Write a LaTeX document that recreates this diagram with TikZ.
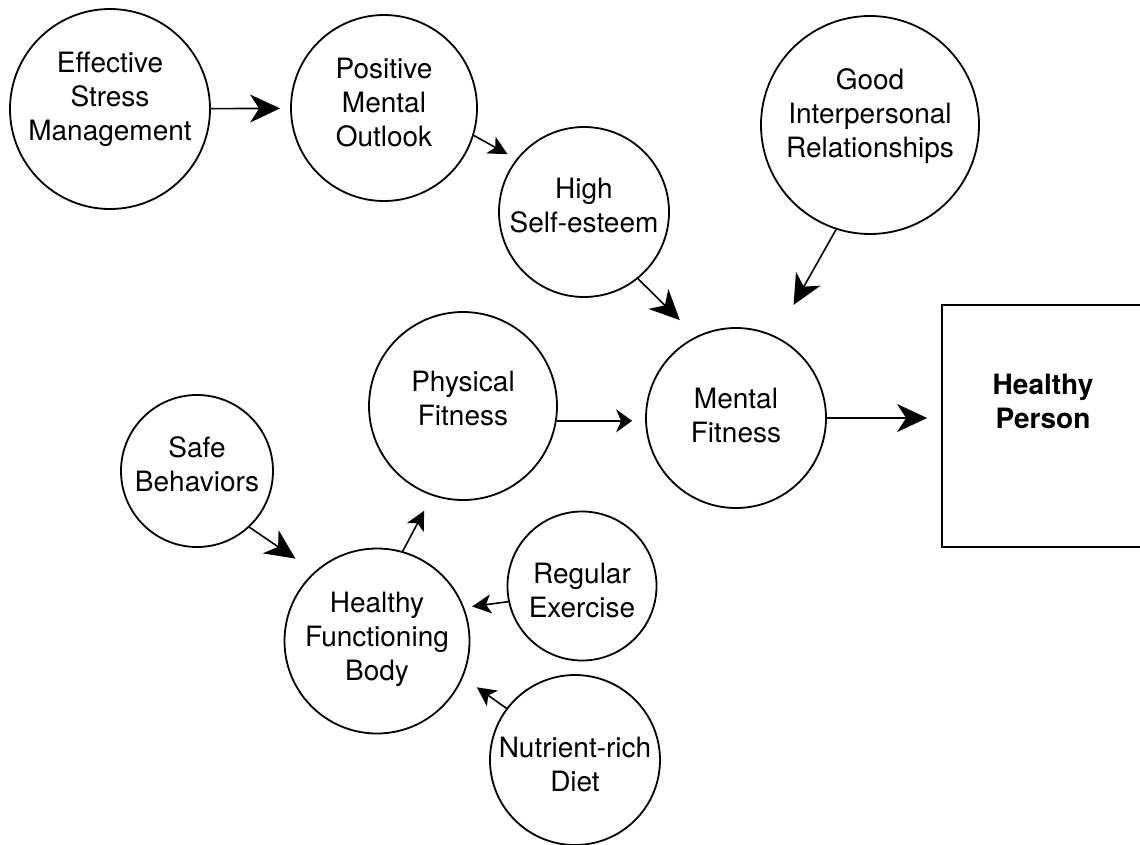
\documentclass[tikz,border=0pt]{standalone}
\usepackage{fontspec}
\setmainfont{TeX Gyre Heros}
\usetikzlibrary{arrows.meta}

\tikzset{
	bubble/.style={draw,circle,line width=1.8pt,inner sep=0pt},
	every label/.style={align=center},
	big/.style={line width=1.6pt,-{Stealth[length=30pt,width=28pt,inset=9pt]}},
	mid/.style={line width=1.6pt,-{Stealth[length=16pt,width=23pt,inset=5pt]}},
	small/.style={line width=1.6pt,-{Stealth[length=19pt,width=19pt,inset=5pt]}},
}

\begin{document}
\begin{tikzpicture}[x=1pt,y=-1pt,font=\fontsize{28}{34}\selectfont]
	\useasboundingbox (0,0) rectangle (1140,844);
	% mental side
	\node[bubble,minimum size=200pt,label={[yshift=10pt]center:Effective\\Stress\\Management}] (esm) at (110,109) {};
	\node[bubble,minimum size=186pt,label={[yshift=5pt]center:Positive\\Mental\\Outlook}] (pmo) at (384,108) {};
	\node[bubble,minimum size=170pt,label={[yshift=6pt]center:High\\Self-esteem}] (hse) at (584,212) {};
	\node[bubble,minimum size=218pt,label={[yshift=9pt]center:Good\\Interpersonal\\Relationships}] (gir) at (870,125) {};
	\node[bubble,minimum size=180pt,label={[yshift=3pt]center:Mental\\Fitness}] (mf) at (736,418) {};
	% physical side
	\node[bubble,minimum size=188pt,label={[yshift=8pt]center:Physical\\Fitness}] (pf) at (463,406) {};
	\node[bubble,minimum size=152pt,label={[yshift=7pt]center:Safe\\Behaviors}] (sb) at (197,471) {};
	\node[bubble,minimum size=185pt,label={[yshift=2pt]center:Healthy\\Functioning\\Body}] (hfb) at (377,641) {};
	\node[bubble,minimum size=149pt,label={[yshift=-4pt]center:Regular\\Exercise}] (re) at (582,586) {};
	\node[bubble,minimum size=170pt,label={[yshift=-4pt]center:Nutrient-rich\\Diet}] (nrd) at (575,760) {};
	% result
	\node[draw,line width=1.8pt,minimum width=202pt,minimum height=242pt,
		label={[yshift=25pt,font=\fontsize{28}{34}\selectfont\bfseries]center:Healthy\\Person}] (hp) at (1043,426) {};

	\draw[big,shorten >=10pt]   (esm) -- (pmo);
	\draw[small,shorten >=10pt] (pmo.-17) -- (hse.142);
	\draw[big,shorten >=23pt]   (hse.-51) -- (mf.116);
	\draw[big,shorten >=36pt]   (gir.252) -- (mf.64);
	\draw[mid,shorten >=13pt]   (pf.-9) -- (pf.-9 -| mf.west);
	\draw[big,shorten >=14pt]   (mf) -- (mf -| hp.west);
	\draw[big,shorten >=23pt]   (sb.-47) -- (hfb.132);
	\draw[small,shorten >=17pt] (hfb.74) -- (pf.251);
	\draw[small,shorten >=8pt]  (re.192) -- (hfb.21);
	\draw[small,shorten >=17pt] (nrd.143) -- (hfb.-23);
\end{tikzpicture}
\end{document}
